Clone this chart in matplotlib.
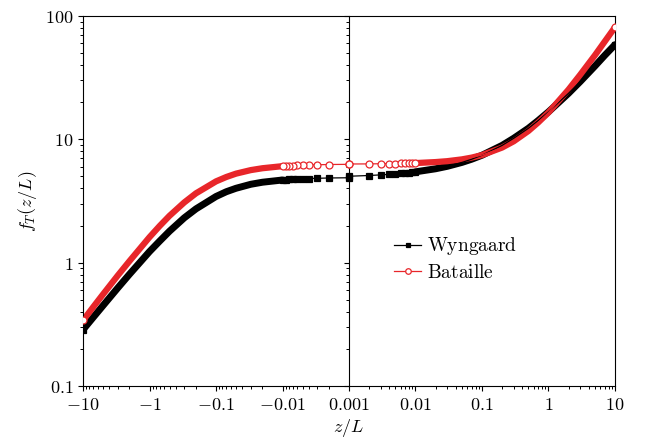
import numpy as np
import matplotlib
matplotlib.use("Agg")
import matplotlib.pyplot as plt
from matplotlib.ticker import FixedLocator, NullFormatter

plt.rcParams['mathtext.fontset'] = 'cm'
plt.rcParams['font.size'] = 13

# |z/L| values at which the curves are read (same grid on both sides of zero)
z_abs = [0.001, 0.002, 0.003, 0.004, 0.005, 0.006, 0.007, 0.008, 0.009, 0.01,
         0.02, 0.03, 0.05, 0.07, 0.1, 0.2, 0.3, 0.5, 0.7, 1, 2, 3, 5, 7, 10]

# f_T, unstable side (z/L < 0), ordered by |z/L|
wyngaard_neg = [4.88, 4.86, 4.83, 4.81, 4.79, 4.77, 4.75, 4.73, 4.70, 4.68,
                4.49, 4.32, 4.01, 3.76, 3.44, 2.73, 2.31, 1.80, 1.50, 1.23,
                0.806, 0.624, 0.449, 0.361, 0.286]
bataille_neg = [6.27, 6.25, 6.22, 6.20, 6.18, 6.15, 6.13, 6.10, 6.08, 6.06,
                5.83, 5.63, 5.27, 4.95, 4.56, 3.65, 3.08, 2.40, 1.99, 1.61,
                1.03, 0.787, 0.554, 0.438, 0.340]

# stable side (z/L > 0)
wyngaard_pos = [5.02, 5.09, 5.15, 5.20, 5.24, 5.29, 5.33, 5.37, 5.41, 5.45,
                5.77, 6.04, 6.50, 6.90, 7.43, 8.92, 10.2, 12.3, 14.2, 16.7,
                23.6, 29.4, 39.3, 47.9, 58.5]
bataille_pos = [6.31, 6.32, 6.34, 6.35, 6.36, 6.37, 6.38, 6.39, 6.41, 6.42,
                6.54, 6.65, 6.88, 7.11, 7.45, 8.57, 9.64, 11.7, 13.7, 16.5,
                25.3, 33.4, 48.1, 62.0, 81.1]

x_major = [-10, -1, -0.1, -0.01, 0.001, 0.01, 0.1, 1, 10]
x_labels = [r'$-10$', r'$-1$', r'$-0.1$', r'$-0.01$', r'$0.001$',
            r'$0.01$', r'$0.1$', r'$1$', r'$10$']
y_major = [0.1, 1, 10, 100]
y_labels = [r'$0.1$', r'$1$', r'$10$', r'$100$']


def fwd(z):
    z = np.asarray(z, dtype=float)
    a = np.maximum(np.abs(z), 1e-3)
    return np.sign(z) * (np.log10(a) + 3)


def inv(u):
    u = np.asarray(u, dtype=float)
    return np.sign(u) * 10 ** (np.abs(u) - 3)


z_all = [-v for v in z_abs[::-1]] + z_abs
n_dense = 9  # from |z/L| = 0.01 outwards the markers merge into a band

fig = plt.figure(figsize=(6.46, 4.44), dpi=100)
ax = fig.add_axes([0.1285, 0.1306, 0.8235, 0.8334])
ax.set_xscale('function', functions=(fwd, inv))
ax.set_yscale('log')

series = [
    ("Wyngaard", wyngaard_neg, wyngaard_pos, 'black', 's', 'black', 4.3, 5.0),
    ("Bataille", bataille_neg, bataille_pos, '#e8262a', 'o', 'white', 5.0, 4.5),
]
for name, yneg, ypos, col, mk, face, ms, band in series:
    y_all = yneg[::-1] + ypos
    # dense band of overlapping markers
    for side in (-1, 1):
        zz = [side * v for v in z_abs[n_dense:]]
        yy = (yneg if side < 0 else ypos)[n_dense:]
        ax.plot(zz, yy, color=col, lw=band, solid_capstyle='round', zorder=2)
    # thin line with individual markers near zero
    ax.plot(z_all, y_all, color=col, lw=0.9, zorder=3)
    zm = [-v for v in z_abs[:n_dense + 1]] + z_abs[:n_dense + 1] + [-10, 10]
    ym = yneg[:n_dense + 1] + ypos[:n_dense + 1] + [yneg[-1], ypos[-1]]
    ax.plot(zm, ym, ls='none', marker=mk, ms=ms, mfc=face, mec=col, mew=0.9,
            zorder=3)
    # legend proxy
    ax.plot([], [], color=col, lw=0.9, marker=mk, ms=ms * 0.8, mfc=face,
            mec=col, mew=0.9, label=r'$\mathrm{%s}$' % name)

ax.set_xlim(-10, 10)
ax.set_ylim(0.1, 100)

ax.xaxis.set_major_locator(FixedLocator(x_major))
ax.set_xticklabels(x_labels)
x_minor = []
for d in [0.001, 0.01, 0.1, 1]:
    for k in range(2, 10):
        x_minor += [-k * d, k * d]
ax.xaxis.set_minor_locator(FixedLocator(x_minor))
ax.xaxis.set_minor_formatter(NullFormatter())

ax.set_yticks(y_major)
ax.set_yticklabels(y_labels)
ax.yaxis.set_minor_formatter(NullFormatter())

ax.tick_params(which='major', direction='out', length=3.5, width=0.8)
ax.tick_params(which='minor', direction='out', length=2.0, width=0.7)

# vertical axis through the middle (z/L = 0.001)
sec = ax.secondary_yaxis(0.5)
sec.set_yticks(y_major)
sec.yaxis.set_minor_formatter(NullFormatter())
sec.tick_params(which='both', direction='in', labelright=False, labelleft=False)
sec.tick_params(which='major', length=3.5, width=0.8)
sec.tick_params(which='minor', length=2.0, width=0.7)

ax.set_xlabel(r'$z/L$', labelpad=2)
ax.set_ylabel(r'$f_T(z/L)$', labelpad=4)

ax.legend(loc='center left', bbox_to_anchor=(0.552, 0.344), frameon=False,
          fontsize=14, handlelength=1.4, handletextpad=0.3, labelspacing=0.3,
          borderpad=0.4)

fig.savefig('out.png', dpi=100)
